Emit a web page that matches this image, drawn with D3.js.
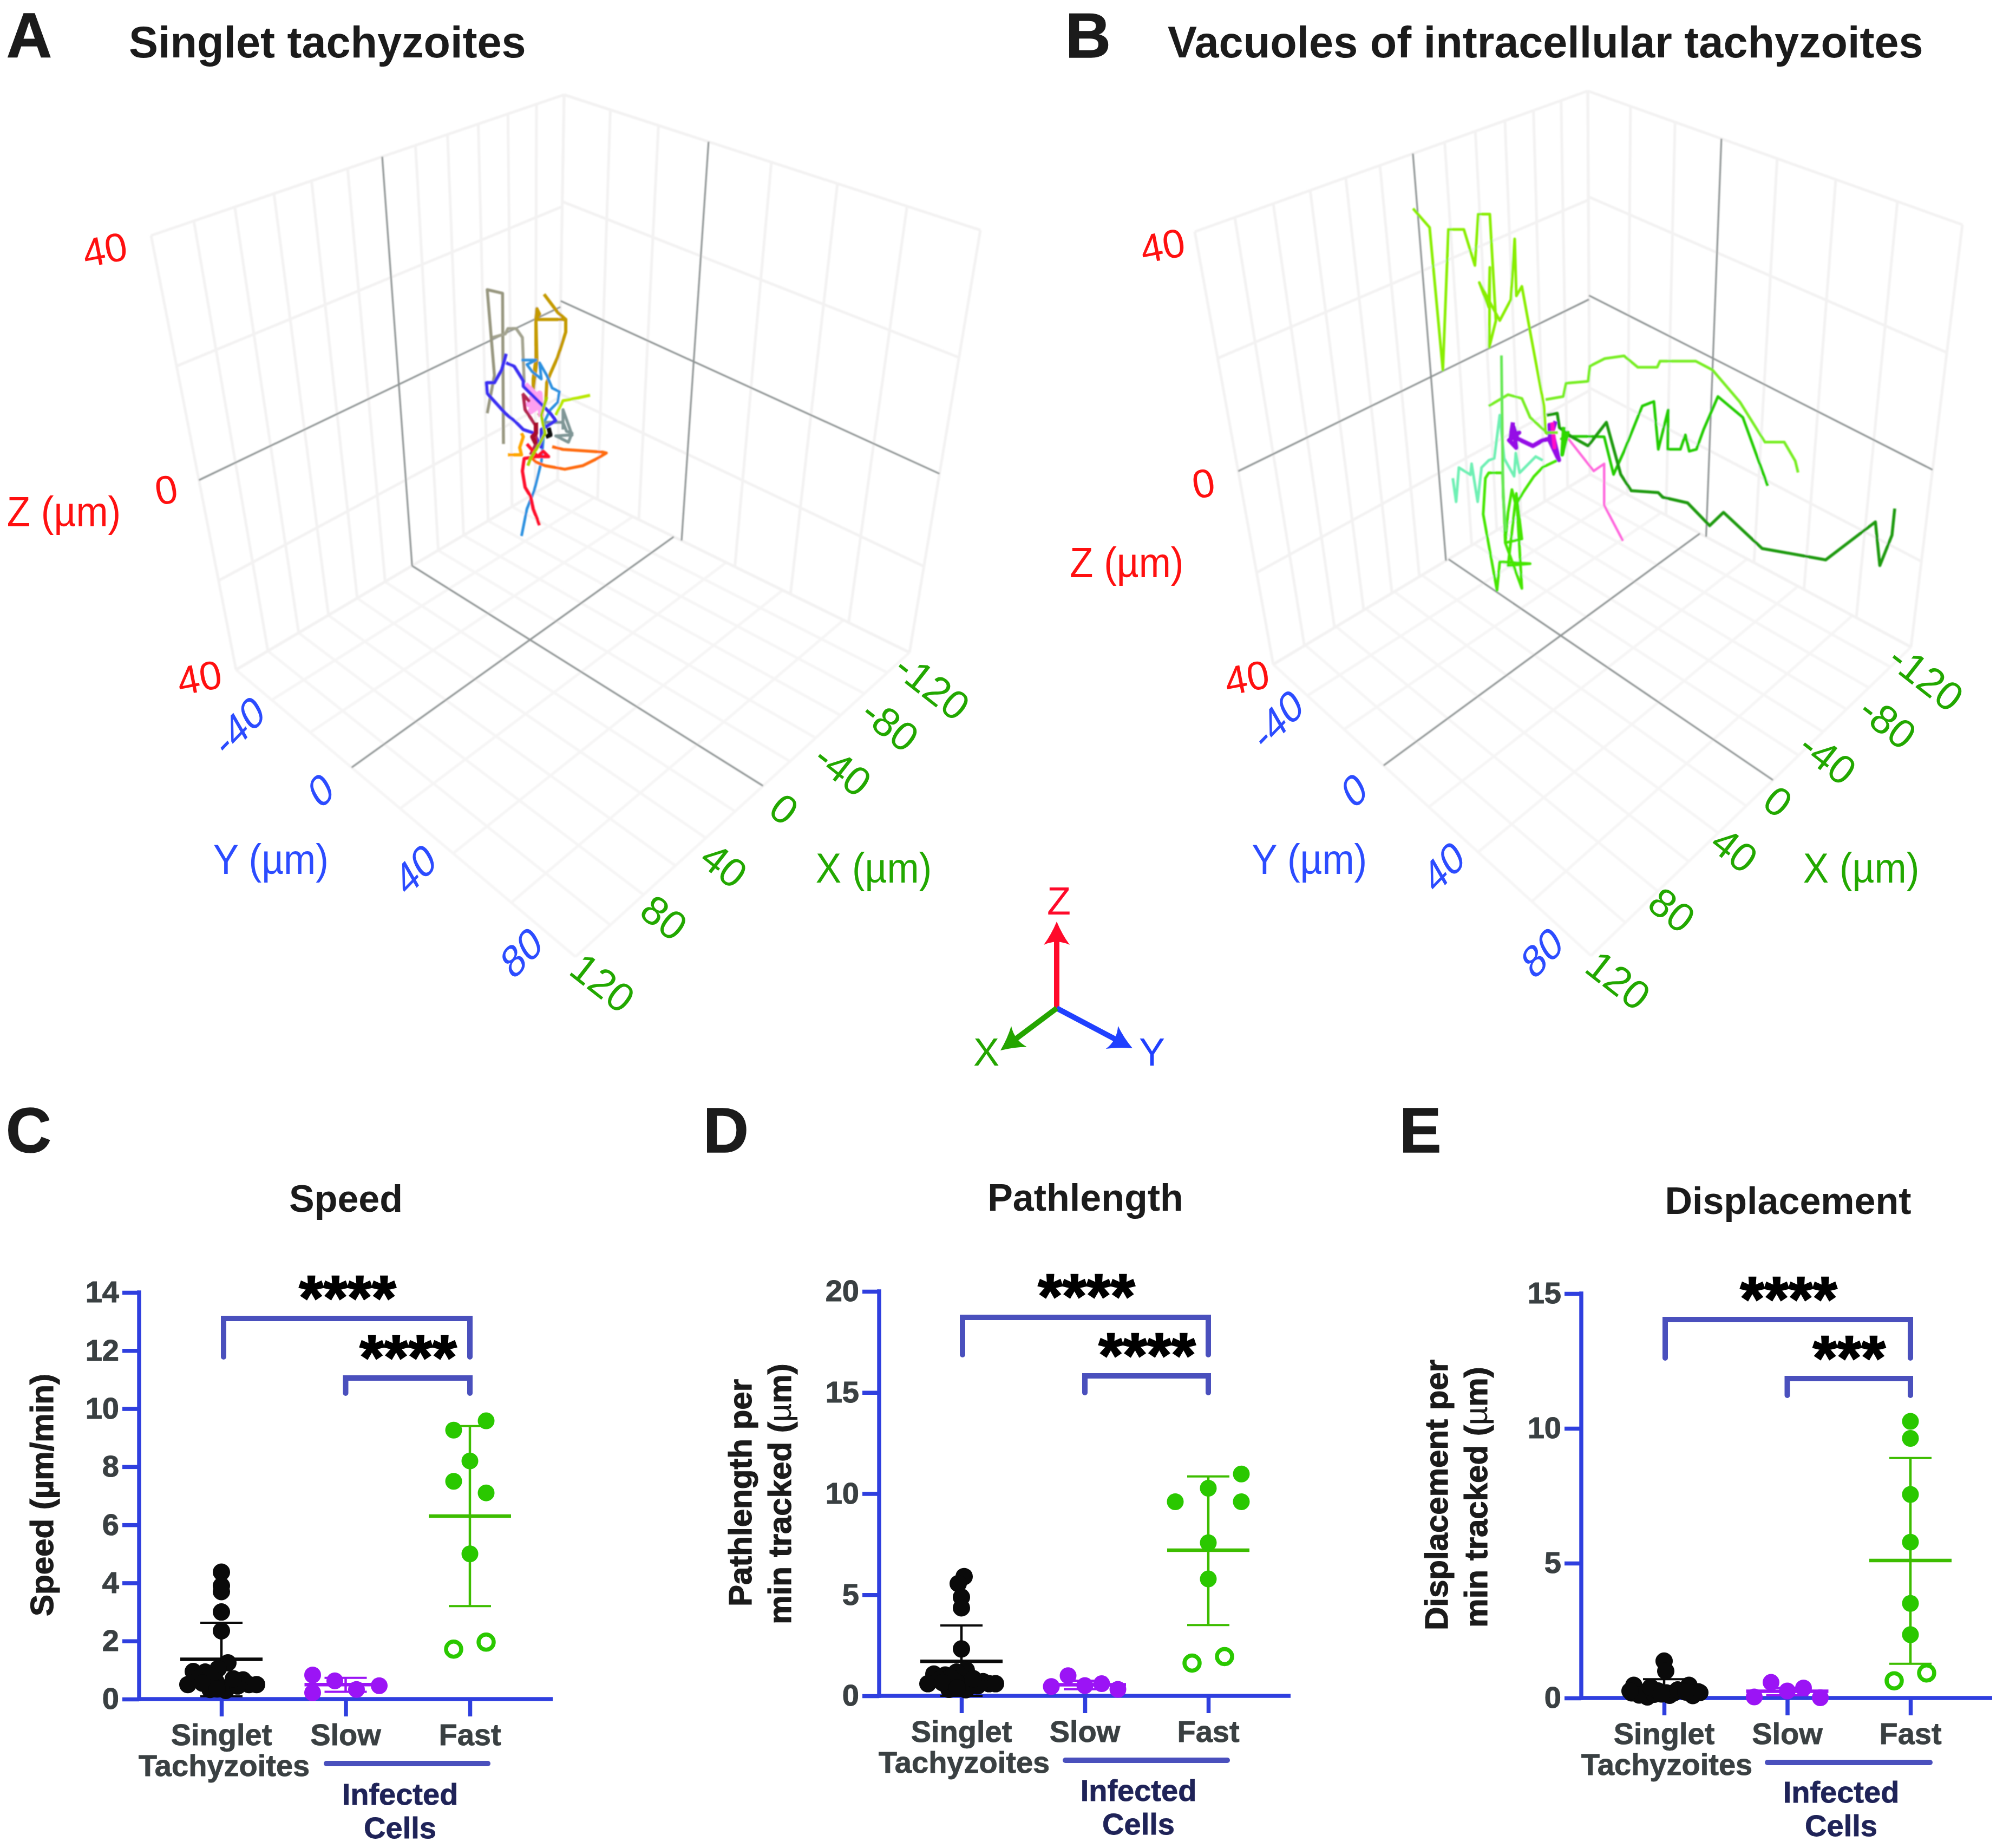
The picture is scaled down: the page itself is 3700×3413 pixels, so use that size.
<!DOCTYPE html>
<html><head><meta charset="utf-8">
<script src="https://cdn.jsdelivr.net/npm/d3@7/dist/d3.min.js"></script>
<style>html,body{margin:0;padding:0;background:#fff}svg{display:block}text{font-family:"Liberation Sans",Arial,sans-serif}</style>
</head><body><svg id="fig" width="3700" height="3413"></svg>
<script>
// ---------- panel C/D/E data ----------
const categories = ["Singlet","Slow","Fast"];
const speedTicks = [0,2,4,6,8,10,12,14];
const pathTicks = [0,5,10,15,20];
const dispTicks = [0,5,10,15];

const speedSinglet = [4.37,3.9,3.7,3.0,2.35,1.25,1.05,0.95,0.93,0.5,0.73,0.4,0.33,0.4,0.5,0.66,0.5,0.5,0.3,0.6,0.8,0.45,0.55,0.35,0.7];
const speedSingletJitter = [0,0,0,0,0,12,-6,-52,-30,-62,-41,-20,-21,0,19,40,51,65,8,-10,-20,30,-35,-8,22];
const speedSlow = [0.83,0.22,0.63,0.33,0.46];
const speedSlowJitter = [-61,-61,-20,20,62];
const speedFast = [9.26,9.58,8.2,7.5,7.1,5.0];
const speedFastJitter = [-30,30,0,-30,30,0];
const speedOpen = [1.72,1.96];
const openJitter = [-30,30];
const speedMean = [1.37,0.5,6.3];
const speedHigh = [2.63,0.73,9.4];
const speedLow = [0.1,0.25,3.2];

const pathSinglet = [5.9,5.55,4.88,4.35,2.32,1.27,1.18,1.08,1.03,0.6,0.8,0.32,0.42,0.48,0.5,0.7,0.6,0.6,0.3,0.7,0.9,0.5,0.65,0.4,0.85];
const pathSingletJitter = [5,-6,0,0,0,9,-9,-51,-30,-62,-41,-23,-20,0,19,40,51,63,8,-10,-20,30,-35,-8,22];
const pathSlow = [0.46,1.0,0.51,0.6,0.32];
const pathSlowJitter = [-62,-31,0,31,61];
const pathFast = [9.6,10.27,10.97,9.6,7.57,5.78];
const pathFastJitter = [-61,0,61,61,0,0];
const pathOpen = [1.62,1.94];
const pathMean = [1.71,0.55,7.2];
const pathHigh = [3.48,0.75,10.85];
const pathLow = [0,0.33,3.5];

const dispSinglet = [1.37,1.0,0.47,0.47,0.26,0.19,0.23,0.04,0.19,0.26,0.11,0.14,0.19,0.26,0.4,0.09,0.26,0.2,0.1,0.3,0.15,0.22];
const dispSingletJitter = [0,3,-56,46,-31,-60,63,-31,18,35,-46,-18,4,-11,-25,53,-63,66,10,25,-5,40];
const dispSlow = [0.04,0.58,0.26,0.37,0.01];
const dispSlowJitter = [-61,-30,0,30,61];
const dispFast = [10.26,9.63,7.55,5.78,3.51,2.35];
const dispFastJitter = [0,0,0,0,0,0];
const dispOpen = [0.64,0.93];
const dispMean = [0.3,0.25,5.1];
const dispHigh = [0.7,0.38,8.9];
const dispLow = [0,0.1,1.27];

// ---------- 3D panel ticks and tracks (positions read in view units of each panel) ----------
const xTicks3d = [-120,-80,-40,0,40,80,120];
const yTicks3d = [-40,0,40,80];
const zTickLabels = ["40","0","40"];

const trackColorsA = ["#97967f","#a3a38f","#c49a00","#3b2ff2","#2a90e0","#ffa0f0","#b3274f","#ff0a2c","#ff6a10","#ffa500","#b8e800","#7f9696","#101010","#3b2ff2","#a8d000","#a80f2a"];
const trackWidthsA = [5.5,5.5,6,6,5,11,6,6,5.5,6,5.5,5.5,8,6,5.5,8];
const trackA0 = [[300,790],[340,580],[300,105],[385,125],[390,960]];
const trackA1 = [[330,370],[400,350],[415,320],[460,320],[495,370],[505,620]];
const trackA2 = [[615,130],[690,230],[735,270],[570,270],[590,240],[575,210],[570,270],[570,490],[555,600],[555,660],[575,500],[570,270],[735,270],[735,340],[690,480],[650,570],[630,620],[625,720],[600,790],[580,800]];
const trackA3 = [[405,460],[380,550],[340,620],[295,620],[300,680],[355,740],[400,790],[460,840],[500,880],[560,900],[600,980]];
const trackA4 = [[490,495],[570,495],[520,520],[550,560],[600,600],[590,510],[630,580],[660,650],[700,670],[690,730],[650,770],[620,830],[600,1060],[590,1100],[560,1220],[520,1320],[490,1470]];
const trackA5 = [[510,630],[560,680],[530,740],[590,745],[540,780],[590,680],[600,810]];
const trackA6 = [[495,680],[530,720],[500,690],[510,770],[570,860],[570,960],[540,1020]];
const trackA7 = [[520,960],[580,1030],[640,1030],[610,1000],[580,1030],[505,1040],[495,1110],[510,1200],[540,1250],[555,1320],[590,1410]];
const trackA8 = [[660,975],[720,990],[940,1005],[960,1010],[910,1040],[830,1080],[730,1100],[620,1080],[570,1060],[540,1030]];
const trackA9 = [[415,1020],[490,1020],[480,980],[500,920],[490,900]];
const trackA10 = [[870,690],[800,705],[720,720],[700,760],[680,800]];
const trackA11 = [[620,840],[720,840],[740,890],[770,900],[750,950],[680,915],[770,910],[720,770],[720,880]];
const trackA12 = [[640,870],[650,910],[625,920]];
const trackA13 = [[405,510],[450,530],[500,610],[500,640],[630,770],[650,790],[680,830],[600,880],[600,985]];
const trackA14 = [[525,1080],[540,1040],[590,960],[620,900],[600,800],[630,700]];
const trackA15 = [[570,840],[570,900],[550,920],[570,960]];
const tracksA = [trackA0,trackA1,trackA2,trackA3,trackA4,trackA5,trackA6,trackA7,trackA8,trackA9,trackA10,trackA11,trackA12,trackA13,trackA14,trackA15];

const trackColorsB = ["#88ee00","#77ee22","#22cc00","#1f9a10","#6ef0b4","#44e600","#ff66dd","#9511e6","#ff10c8","#77ee22","#66e855","#2fd800"];
const trackWidthsB = [5,5,5,5.5,5,5,4.5,8,7,5,5,7];
const trackB0 = [[598,50],[628,100],[652,475],[662,105],[690,105],[710,200],[716,65],[737,65],[748,345],[736,415],[737,205],[735,310],[718,245],[755,345],[775,290],[782,130],[785,280],[795,255],[812,390],[835,570],[838,640],[850,650]];
const trackB1 = [[1295,745],[1290,715],[1270,665],[1235,665],[1190,560],[1140,475],[1110,452],[1045,452],[1040,468],[1005,468],[980,438],[945,445],[918,465],[915,505],[875,510],[870,545],[838,553]];
const trackB1b = [[735,570],[770,540],[795,550],[810,600],[840,640],[860,640]];
const trackB2 = [[1240,780],[1195,600],[1150,545],[1124,632],[1111,684],[1098,689],[1091,646],[1082,684],[1059,684],[1060,580],[1042,684],[1034,558],[1013,570],[980,689],[961,750],[944,651],[920,650],[880,650]];
const trackB3 = [[840,594],[859,589],[863,627],[885,651],[915,675],[948,613],[967,713],[974,750],[993,793],[1042,798],[1050,810],[1095,825],[1135,885],[1160,850],[1230,945],[1345,975],[1435,875],[1443,990],[1465,910],[1470,840]];
const trackB4 = [[670,760],[676,822],[681,732],[702,751],[704,722],[715,822],[722,732],[735,713],[745,708],[755,594],[763,708],[781,755],[784,694],[791,746],[820,703],[833,713]];
const trackB5 = [[859,713],[833,731],[817,755],[797,798],[784,831],[777,790],[770,850],[765,930],[795,920],[785,800],[770,990],[810,985],[755,980],[750,1055],[725,855],[729,760],[735,746],[760,746],[765,930],[795,1050],[785,800]];
const trackB5b = [[758,437],[761,807],[766,900]];
const trackB6 = [[879,656],[925,741],[944,722],[944,831],[978,925]];
const trackB7 = [[779,613],[775,650],[790,640],[772,660],[785,680],[780,625],[787,656],[815,675],[833,660],[846,656],[845,620],[860,700],[850,640],[862,712],[845,660],[856,610]];
const trackB8 = [[850,613],[854,679],[852,640]];
const trackB9 = [[871,625],[868,698],[878,640],[866,660]];
const tracksB = [trackB0,trackB1,trackB2,trackB3,trackB4,trackB5,trackB6,trackB7,trackB8,trackB1b,trackB5b,trackB9];

// ---------- layout ----------
const BLUE="#2f3fdf", BR="#4a50bd", INK="#3a4042", NAVY="#1f2358";
const svg=d3.select("#fig");
const defs=svg.append("defs");
defs.append("filter").attr("id","soft").attr("x","-5%").attr("y","-5%").attr("width","110%").attr("height","110%").append("feGaussianBlur").attr("stdDeviation",1);
const gridXdomain=d3.range(-120,121,20), gridYdomain=d3.range(-60,81,20), gridZdomain=d3.range(-40,41,20);

function quadMap(p00,p10,p11,p01){ // homography from unit square
  const [x0,y0]=p00,[x1,y1]=p10,[x2,y2]=p11,[x3,y3]=p01;
  const dx1=x1-x2,dx2=x3-x2,sx=x0-x1+x2-x3,dy1=y1-y2,dy2=y3-y2,sy=y0-y1+y2-y3;
  const det=dx1*dy2-dx2*dy1, g=(sx*dy2-dx2*sy)/det, h=(dx1*sy-sx*dy1)/det;
  const a=x1-x0+g*x1,b=x3-x0+h*x3,c=x0,d=y1-y0+g*y1,e=y3-y0+h*y3,f=y0;
  return (u,v)=>{const w=g*u+h*v+1;return [(a*u+b*v+c)/w,(d*u+e*v+f)/w];};
}
function panel3D(L){
  const g=svg.append("g");
  const gg=g.append("g").attr("filter","url(#soft)");
  const sx=d3.scaleLinear().domain([-120,120]).range([0,1]);
  const sy=d3.scaleLinear().domain([-60,0,80]).range([0,L.yZero,1]);
  const syFront=d3.scaleLinear().domain([-60,0,80]).range([0,L.yZeroFront,1]);
  const sz=d3.scaleLinear().domain([-40,40]).range([0,1]);
  const szEnd=d3.scaleLinear().domain([-40,0,40]).range([0,L.zZeroEnd,1]);
  const left=quadMap(L.B,L.L,L.TL,L.TB), right=quadMap(L.B,L.R,L.TR,L.TB), floor=quadMap(L.B,L.L,L.F,L.R);
  const seg=(p,q,c,w)=>gg.append("line").attr("x1",p[0]).attr("y1",p[1]).attr("x2",q[0]).attr("y2",q[1]).attr("stroke",c).attr("stroke-width",w);
  const faint="#f3f2f2", faintFloor="#f6f5f5", dark="#8f9494";
  gridXdomain.forEach(x=>{ if(x!==0){seg(left(sx(x),0),left(sx(x),1),faint,5); seg(floor(sx(x),0),floor(sx(x),1),faintFloor,5);} });
  gridYdomain.forEach(y=>{ if(y!==0){seg(right(sy(y),0),right(sy(y),1),faint,5); seg(floor(0,sy(y)),floor(1,syFront(y)),faintFloor,5);} });
  gridZdomain.forEach(z=>{ if(z!==0){seg(left(0,sz(z)),left(1,sz(z)),faint,5); seg(right(0,sz(z)),right(1,szEnd(z)),faint,5);} });
  // dark zero lines
  seg(left(sx(0),0),left(sx(0),1),dark,3.2); seg(right(sy(0),0),right(sy(0),1),dark,3.2);
  seg(left(0,sz(0)),left(1,sz(0)),dark,3.2); seg(right(0,sz(0)),right(1,szEnd(0)),dark,3.2);
  seg(floor(sx(0),0),floor(sx(0),1),dark,3.2); seg(floor(0,sy(0)),floor(1,syFront(0)),dark,3.2);
  // tracks
  const tx=d3.scaleLinear().domain(L.viewX).range(L.pixX), ty=d3.scaleLinear().domain(L.viewY).range(L.pixY);
  const line=d3.line().x(d=>tx(d[0])).y(d=>ty(d[1]));
  gg.append("g").selectAll("path").data(L.tracks).join("path")
    .attr("d",line).attr("fill","none").attr("stroke",(d,i)=>L.colors[i]).attr("stroke-width",(d,i)=>L.widths[i]).attr("stroke-linejoin","round").attr("stroke-linecap","butt");
  // labels
  const rad=Math.PI/180;
  const shear=(p,base,up)=>`matrix(${Math.cos(base*rad)},${Math.sin(base*rad)},${-Math.sin(up*rad)},${Math.cos(up*rad)},${p[0]},${p[1]})`;
  const lab=(t,tf,c,size)=>g.append("text").attr("transform",tf).attr("text-anchor","middle").attr("dy","0.36em").attr("font-size",size).attr("fill",c).text(t);
  const RED="#ff1010",GB="#2c4cff",GR="#22a800";
  const xl=d3.scaleLinear().domain(xTicks3d).range(L.xLabX), xm=d3.scaleLinear().domain(xTicks3d).range(L.xLabY);
  const yl=d3.scaleLinear().domain(yTicks3d).range(L.yLabX), ym=d3.scaleLinear().domain(yTicks3d).range(L.yLabY);
  xTicks3d.forEach(v=>lab(String(v),`translate(${xl(v)},${xm(v)}) rotate(38)`,GR,75));
  yTicks3d.forEach(v=>lab(String(v),shear([yl(v),ym(v)],-46,-30),GB,76));
  zTickLabels.forEach((t,i)=>lab(t,`translate(${L.zLab[i][0]},${L.zLab[i][1]}) rotate(-11)`,RED,74));
  const axisT=(t,p,c)=>lab(t,`translate(${p[0]},${p[1]}) scale(1,1.1)`,c,71);
  axisT("Z (µm)",L.zT,RED); axisT("Y (µm)",L.yT,GB); axisT("X (µm)",L.xT,GR);
}
const k=3700/1568;
const sh=(a)=>a.map(v=>v*k);
panel3D({B:[1030,886],L:[436,1237],R:[1680,1205],F:[1063,1767],TB:[1042,175],TL:[279,435],TR:[1811,425],yZero:0.385,yZeroFront:0.41,zZeroEnd:0.464,
  viewX:[0,1200],viewY:[0,1560],pixX:[800,1200],pixY:[500,1020],tracks:tracksA,colors:trackColorsA,widths:trackWidthsA,
  xLabX:sh([730,697,660,614,567,520,472]),xLabY:sh([537,567,602,633,677,718,769]),
  yLabX:sh([187,251,325,408]),yLabY:sh([568,618,680,745]),
  zLab:[[82*k,195*k],[130*k,383*k],[156*k,530*k]],zT:[50*k,400*k],yT:[212*k,672*k],xT:[684*k,679*k]});
panel3D({B:[2937,876],L:[2352,1227],R:[3530,1195],F:[2939,1765],TB:[2933,168],TL:[2207,428],TR:[3625,415],yZero:0.395,yZeroFront:0.415,zZeroEnd:0.458,
  viewX:[0,1568],viewY:[0,1568],pixX:[2000,3600],pixY:[350,1450],tracks:tracksB,colors:trackColorsB,widths:trackWidthsB,
  xLabX:sh([1508,1478,1431,1392,1358,1309,1267]),xLabY:sh([530,565,593,627,665,712,767]),
  yLabX:sh([1000,1060,1130,1207]),yLabY:sh([563,618,678,745]),
  zLab:[[910*k,192*k],[942*k,378*k],[976*k,530*k]],zT:[882*k,440*k],yT:[1025*k,672*k],xT:[1457*k,679*k]});

// compass
(function(){
  const o=[1952,1862], g=svg.append("g");
  const arrow=(tip,c)=>{
    const dx=tip[0]-o[0],dy=tip[1]-o[1],len=Math.hypot(dx,dy),a=Math.atan2(dy,dx)*180/Math.PI;
    const ag=g.append("g").attr("transform",`translate(${o[0]},${o[1]}) rotate(${a})`);
    ag.append("line").attr("x1",0).attr("x2",len-30).attr("stroke",c).attr("stroke-width",10);
    ag.append("path").attr("transform",`translate(${len},0)`).attr("d","M0,0 Q-24,-10 -43,-24 Q-32,0 -43,24 Q-24,10 0,0Z").attr("fill",c);
  };
  arrow([1952,1702],"#ff0a2a"); arrow([2092,1936],"#2040ff"); arrow([1848,1940],"#24a500");
  const t=(s,x,y,c)=>g.append("text").attr("x",x).attr("y",y).attr("text-anchor","middle").attr("dy","0.36em").attr("font-size",72).attr("fill",c).text(s);
  t("Z",1956,1663,"#ff0a2a"); t("X",1822,1942,"#24a500"); t("Y",2128,1942,"#2040ff");
})();

// headings
const bold=(s,x,y,size,anchor="start",c="#1b1b1b")=>svg.append("text").attr("x",x).attr("y",y).attr("font-size",size).attr("font-weight",700).attr("text-anchor",anchor).attr("fill",c).text(s);
const letter=(s,x,y)=>svg.append("text").attr("x",x).attr("y",y).attr("font-size",116).attr("font-weight",700).attr("fill","#1b1b1b").attr("stroke","#1b1b1b").attr("stroke-width",1.5).text(s);
letter("A",12,106); letter("B",1968,106); letter("C",11,2128); letter("D",1299,2128); letter("E",2585,2128);
bold("Singlet tachyzoites",238,106,81); bold("Vacuoles of intracellular tachyzoites",2157,106,81);
bold("Speed",639,2238,70,"middle"); bold("Pathlength",2005,2236,70,"middle"); bold("Displacement",3303,2242,70,"middle");

// dot plots
function dotPlot(c){
  const g=svg.append("g");
  const y=d3.scaleLinear().domain(c.domain).range(c.yRange);
  const x=d3.scalePoint().domain(categories).range(c.xRange);
  const ya=g.append("g").attr("transform",`translate(${c.axisX},0)`).call(d3.axisLeft(y).tickValues(c.ticks).tickSize(31).tickPadding(6).tickFormat(d3.format("d")));
  const xa=g.append("g").attr("transform",`translate(0,${y(0)})`).call(d3.axisBottom(x).tickSize(32).tickFormat(""));
  [ya,xa].forEach(a=>{a.selectAll("line").attr("stroke",BLUE).attr("stroke-width",7.5); a.selectAll(".domain").remove();});
  g.append("line").attr("x1",c.axisX).attr("x2",c.axisEnd).attr("y1",y(0)).attr("y2",y(0)).attr("stroke",BLUE).attr("stroke-width",7.5);
  g.append("line").attr("x1",c.axisX).attr("x2",c.axisX).attr("y1",y(c.domain[1])-3.7).attr("y2",y(0)+3.7).attr("stroke",BLUE).attr("stroke-width",7.5);
  ya.selectAll("text").attr("font-size",56).attr("font-weight",700).attr("fill",INK).attr("stroke",INK).attr("stroke-width",1).attr("font-family","Liberation Sans");
  const cols=["#0a0a0a","#9b14f5","#2ac800"], lcols=["#0a0a0a","#9b14f5","#3dbd00"];
  // error bars
  categories.forEach((cat,i)=>{
    const cx=x(cat),m=g.append("g").attr("stroke",lcols[i]);
    m.append("line").attr("x1",cx).attr("x2",cx).attr("y1",y(c.high[i])).attr("y2",y(c.low[i])).attr("stroke-width",4.5);
    [c.high[i],c.low[i]].forEach(v=>m.append("line").attr("x1",cx-39).attr("x2",cx+39).attr("y1",y(v)).attr("y2",y(v)).attr("stroke-width",4));
    m.append("line").attr("x1",cx-76).attr("x2",cx+76).attr("y1",y(c.mean[i])).attr("y2",y(c.mean[i])).attr("stroke-width",6.5);
  });
  // points
  const dots=(vals,off,cat,col,r)=>g.append("g").selectAll("circle").data(vals).join("circle").attr("cx",(d,i)=>x(cat)+off[i]).attr("cy",d=>y(d)).attr("r",r).attr("fill",col);
  dots(c.singlet,c.singletJ,"Singlet",cols[0],16); dots(c.slow,c.slowJ,"Slow",cols[1],15.5); dots(c.fast,c.fastJ,"Fast",cols[2],15.5);
  g.append("g").selectAll("circle").data(c.open).join("circle").attr("cx",(d,i)=>x("Fast")+openJitter[i]).attr("cy",d=>y(d)).attr("r",14).attr("fill","#fff").attr("stroke",cols[2]).attr("stroke-width",7.5);
  // brackets
  const b=(xa,xb,yt,d1,d2)=>g.append("path").attr("d",`M${xa},${d1}V${yt}H${xb}V${d2}`).attr("fill","none").attr("stroke",BR).attr("stroke-width",10).attr("stroke-linecap","round").attr("stroke-linejoin","miter");
  b(c.br1[0],x("Fast"),c.br1[1],c.br1[2],c.br1[2]); b(x("Slow"),x("Fast"),c.br2[1],c.br2[2],c.br2[2]);
  const star=(s,p)=>g.append("text").attr("x",p[0]).attr("y",p[1]).attr("text-anchor","middle").attr("dy","0.47em").attr("font-size",115).attr("font-weight",700).attr("fill","#000").attr("stroke","#000").attr("stroke-width",2.5).text(s);
  star("****",c.s1); star(c.s2t,c.s2);
  // category labels
  const lab=(s,xp,yp,col=INK)=>g.append("text").attr("x",xp).attr("y",yp).attr("text-anchor","middle").attr("font-size",56).attr("font-weight",700).attr("fill",col).attr("stroke",col).attr("stroke-width",0.8).text(s);
  categories.forEach(cat=>lab(cat,x(cat),c.catY-2));
  lab("Tachyzoites",x("Singlet")+5,c.catY+55);
  g.append("line").attr("x1",c.bar[0]).attr("x2",c.bar[1]).attr("y1",c.bar[2]).attr("y2",c.bar[2]).attr("stroke",BR).attr("stroke-width",10).attr("stroke-linecap","round");
  lab("Infected",c.inf[0],c.inf[1],NAVY); lab("Cells",c.inf[0],c.inf[1]+62,NAVY);
  // y title
  c.title.forEach(t=>{
    const tx=g.append("text").attr("transform",`translate(${t[1]},${t[2]}) rotate(-90)`).attr("text-anchor","middle").attr("font-size",c.titleSize).attr("font-weight",700).attr("fill","#1b1b1b").attr("stroke","#1b1b1b").attr("stroke-width",1.2);
    const parts=t[0].split("µ");
    tx.append("tspan").text(parts[0]);
    if(parts.length>1){tx.append("tspan").attr("font-weight",c.muWeight).attr("stroke-width",c.muWeight===400?0:1.2).text("µ");tx.append("tspan").text(parts[1]);}
  });
}
dotPlot({domain:[0,14],ticks:speedTicks,yRange:[3138,2387],xRange:[409,868],axisX:257,axisEnd:1021,
  singlet:speedSinglet,singletJ:speedSingletJitter,slow:speedSlow,slowJ:speedSlowJitter,fast:speedFast,fastJ:speedFastJitter,open:speedOpen,
  mean:speedMean,high:speedHigh,low:speedLow,br1:[413,2435,2506],br2:[638,2545,2573],s1:[642,2382],s2:[754,2492],s2t:"****",
  catY:3225,bar:[603,901,3257],inf:[739,3333],title:[["Speed (µm/min)",98,2761]],titleSize:60,muWeight:700});
dotPlot({domain:[0,20],ticks:pathTicks,yRange:[3132,2385],xRange:[1776,2232],axisX:1624,axisEnd:2384,
  singlet:pathSinglet,singletJ:pathSingletJitter,slow:pathSlow,slowJ:pathSlowJitter,fast:pathFast,fastJ:pathFastJitter,open:pathOpen,
  mean:pathMean,high:pathHigh,low:pathLow,br1:[1778,2433,2502],br2:[2004,2541,2572],s1:[2007,2379],s2:[2119,2488],s2t:"****",
  catY:3219,bar:[1968,2267,3251],inf:[2103,3326],title:[["Pathlength per",1388,2757],["min tracked (µm)",1461,2759]],titleSize:60,muWeight:400});
dotPlot({domain:[0,15],ticks:dispTicks,yRange:[3136,2389],xRange:[3074,3529],axisX:2921,axisEnd:3680,
  singlet:dispSinglet,singletJ:dispSingletJitter,slow:dispSlow,slowJ:dispSlowJitter,fast:dispFast,fastJ:dispFastJitter,open:dispOpen,
  mean:dispMean,high:dispHigh,low:dispLow,br1:[3076,2437,2508],br2:[3301,2546,2577],s1:[3304,2384],s2:[3416,2493],s2t:"***",
  catY:3223,bar:[3265,3565,3255],inf:[3401,3329],title:[["Displacement per",2674,2761],["min tracked (µm)",2747,2765]],titleSize:60,muWeight:400});
</script></body></html>
